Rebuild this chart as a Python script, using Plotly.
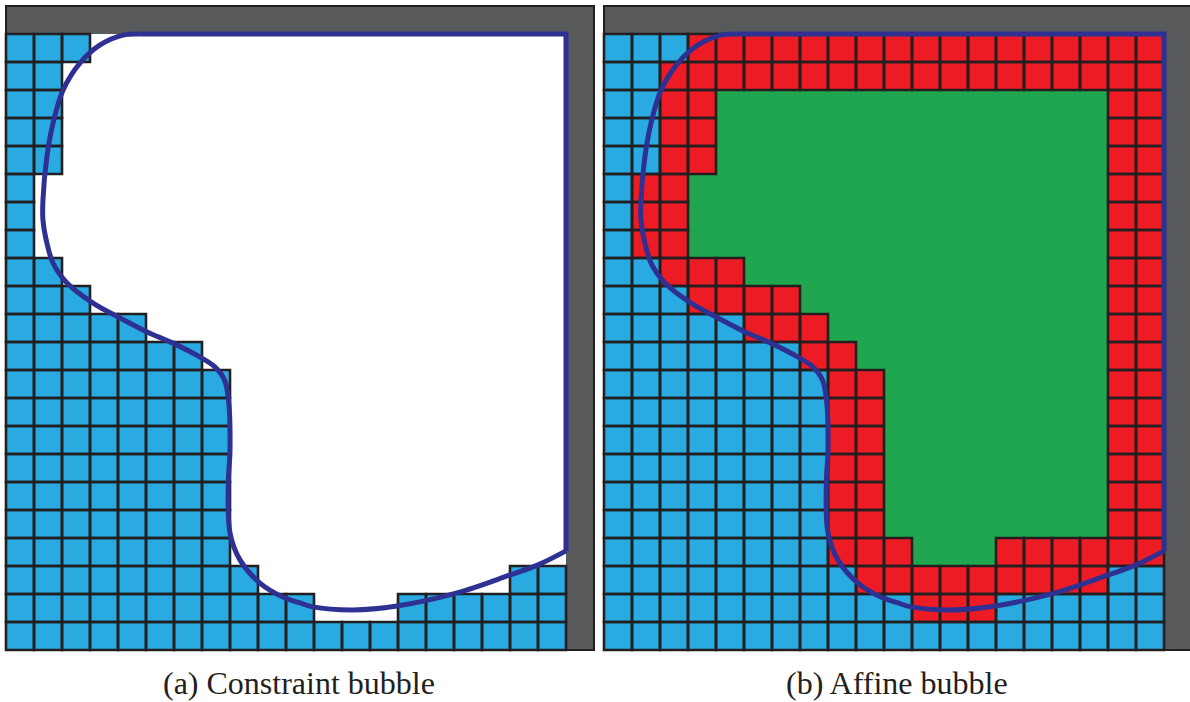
import plotly.graph_objects as go

# Cell states on the 20 x 22 grid (row 0 at the top):
#   B = outside the bubble, R = interface band, G = bubble interior
cell_rows = [
    "BBBRRRRRRRRRRRRRRRRR",
    "BBRRRRRRRRRRRRRRRRRR",
    "BBRRGGGGGGGGGGGGGGRR",
    "BBRRGGGGGGGGGGGGGGRR",
    "BBRRGGGGGGGGGGGGGGRR",
    "BRRGGGGGGGGGGGGGGGRR",
    "BRRGGGGGGGGGGGGGGGRR",
    "BRRGGGGGGGGGGGGGGGRR",
    "BBRRRGGGGGGGGGGGGGRR",
    "BBBRRRRGGGGGGGGGGGRR",
    "BBBBBRRRGGGGGGGGGGRR",
    "BBBBBBBRRGGGGGGGGGRR",
    "BBBBBBBBRRGGGGGGGGRR",
    "BBBBBBBBRRGGGGGGGGRR",
    "BBBBBBBBRRGGGGGGGGRR",
    "BBBBBBBBRRGGGGGGGGRR",
    "BBBBBBBBRRGGGGGGGGRR",
    "BBBBBBBBRRGGGGGGGGRR",
    "BBBBBBBBRRRGGGRRRRRR",
    "BBBBBBBBBRRRRRRRRRBB",
    "BBBBBBBBBBBRRRBBBBBB",
    "BBBBBBBBBBBBBBBBBBBB",
]

# Bubble interface (grid units, y measured downward from the top of the grid)
curve_x = [4.79, 4.18, 3.36, 2.64, 2.04, 1.68, 1.46, 1.32, 1.32, 1.46, 1.68,
           2.18, 3.11, 4.07, 5.04, 5.96, 6.9, 7.45, 7.8, 7.95, 8.0, 7.94,
           8.0, 8.36, 9.07, 9.89, 10.5, 10.96, 12.39, 13.96, 16.11, 18.0,
           19.0, 20.0]
curve_y = [0.0, 0.04, 0.39, 1.04, 2.0, 3.18, 4.39, 5.93, 6.64, 7.46, 8.18,
           8.89, 9.61, 10.14, 10.64, 11.04, 11.52, 11.88, 12.35, 13.1, 14.86,
           16.04, 17.82, 18.79, 19.61, 20.11, 20.32, 20.46, 20.57, 20.43,
           19.96, 19.32, 18.96, 18.46]
# Straight part of the interface along the top and right walls
wall_x = [4.79, 20.0, 20.0]
wall_y = [0.0, 0.0, 18.46]

captions = ["(a) Constraint bubble", "(b) Affine bubble"]

BLUE = "#29ABE2"
RED = "#ED1C24"
GREEN = "#1FA64E"
WHITE = "#FFFFFF"
INK = "#231F20"
WALL = "#58595B"
CURVE = "#2E3192"

W, H = 1190, 702
CELL = 28  # pixels per grid cell
n_rows = len(cell_rows)
n_cols = len(cell_rows[0])

panels = [
    # (axis suffix, left pixel of grid, colour per state, outlined states)
    ("", 6, {"B": BLUE, "R": WHITE, "G": WHITE}, {"B"}),
    ("2", 604, {"B": BLUE, "R": RED, "G": GREEN}, {"B", "R"}),
]

fig = go.Figure()
shapes = []

for k, (sfx, left_px, colours, outlined) in enumerate(panels):
    xa = "x" + sfx
    # grey wall frame: one extra row on top, one extra column on the right
    shapes.append(dict(type="rect", xref=xa, yref="y", x0=0, x1=n_cols + 1,
                       y0=-1, y1=n_rows, fillcolor=WALL,
                       line=dict(color=INK, width=2), layer="below"))

    states = sorted(set(colours))
    code = {s: i for i, s in enumerate(states)}
    z = [[code[ch] for ch in row] for row in cell_rows]
    nmax = len(states) - 1
    cscale = []
    for s in states:
        v = code[s] / nmax
        cscale.append([v, colours[s]])
    fig.add_trace(go.Heatmap(
        z=z, x=[c + 0.5 for c in range(n_cols)],
        y=[r + 0.5 for r in range(n_rows)],
        zmin=0, zmax=nmax, colorscale=cscale, showscale=False,
        hoverinfo="skip", xaxis=xa, yaxis="y"))

    # cell outlines
    ox, oy = [], []
    for r, row in enumerate(cell_rows):
        for c, ch in enumerate(row):
            if ch in outlined:
                ox += [c, c + 1, c + 1, c, c, c + 1, None]
                oy += [r, r, r + 1, r + 1, r, r, None]
    fig.add_trace(go.Scatter(x=ox, y=oy, mode="lines",
                             line=dict(color=INK, width=2.6),
                             hoverinfo="skip", showlegend=False,
                             xaxis=xa, yaxis="y"))

    fig.add_trace(go.Scatter(x=curve_x, y=curve_y, mode="lines",
                             line=dict(color=CURVE, width=5, shape="spline",
                                       smoothing=1.0),
                             hoverinfo="skip", showlegend=False,
                             xaxis=xa, yaxis="y"))
    fig.add_trace(go.Scatter(x=wall_x, y=wall_y, mode="lines",
                             line=dict(color=CURVE, width=5),
                             hoverinfo="skip", showlegend=False,
                             xaxis=xa, yaxis="y"))

half = W / 2
ax_common = dict(visible=False, showgrid=False, zeroline=False,
                 fixedrange=True)
x0_left = -6 / CELL
x0_right = -(604 - half) / CELL

annotations = []
for cap, xc in zip(captions, [299 / W, 897 / W]):
    annotations.append(dict(text=cap, xref="paper", yref="paper",
                            x=xc, y=1 - 683 / H, xanchor="center",
                            yanchor="middle", showarrow=False,
                            font=dict(family="Liberation Serif", size=32,
                                      color="#231F20")))

fig.update_layout(
    width=W, height=H,
    margin=dict(l=0, r=0, t=0, b=0),
    paper_bgcolor="white", plot_bgcolor="white",
    showlegend=False,
    shapes=shapes,
    annotations=annotations,
    xaxis=dict(domain=[0, 0.5], range=[x0_left, x0_left + half / CELL],
               **ax_common),
    xaxis2=dict(domain=[0.5, 1], range=[x0_right, x0_right + half / CELL],
                anchor="y", **ax_common),
    yaxis=dict(domain=[0, 1], range=[(H - 34) / CELL, -34 / CELL],
               **ax_common),
)

fig.write_html("out.html")
